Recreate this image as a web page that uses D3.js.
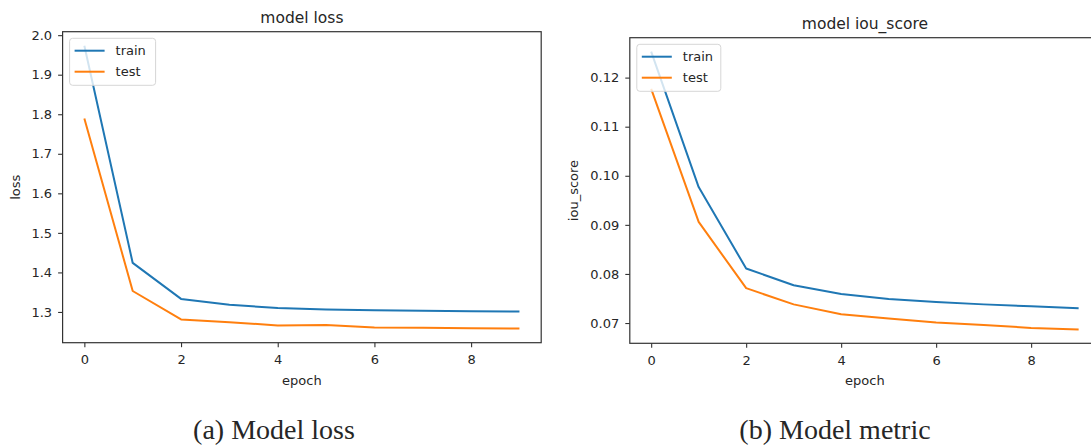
<!DOCTYPE html>
<html>
<head>
<meta charset="utf-8">
<script src="https://cdn.jsdelivr.net/npm/d3@7"></script>
<style>
  html, body { margin: 0; padding: 0; background: #fff; overflow: hidden; }
  text { fill: #262626; }
</style>
</head>
<body>
<div id="chart"></div>
<script>
// epochs shared by both panels
const epochs = [0, 1, 2, 3, 4, 5, 6, 7, 8, 9];
const epochTicks = [0, 2, 4, 6, 8];

// panel (a) loss
const lossTrain = [1.973, 1.424, 1.333, 1.318, 1.310, 1.306, 1.304, 1.303, 1.302, 1.301];
const lossTest = [1.789, 1.353, 1.281, 1.274, 1.266, 1.267, 1.261, 1.260, 1.259, 1.258];

// panel (b) iou_score
const iouTrain = [0.1253, 0.0977, 0.0811, 0.0777, 0.0759, 0.0749, 0.0743, 0.0738, 0.0734, 0.0730];
const iouTest = [0.1177, 0.0906, 0.0771, 0.0738, 0.0718, 0.0709, 0.0701, 0.0696, 0.0690, 0.0687];

const seriesNames = ['train', 'test'];
const seriesColors = ['#1f77b4', '#ff7f0e'];

const W = 1091, H = 445;
const svg = d3.select('#chart').append('svg')
    .attr('width', W)
    .attr('height', H)
    .style('font-family', '"DejaVu Sans", sans-serif');

// matplotlib-like 5% padding around the data
function padded(vals) {
    const [lo, hi] = d3.extent(vals);
    const m = (hi - lo) * 0.05;
    return [lo - m, hi + m];
}

function panel(opt) {
    const { left, right, top, bottom } = opt.box;
    const x = d3.scaleLinear().domain(padded(epochs)).range([left, right]);
    const y = d3.scaleLinear().domain(padded([...opt.train, ...opt.test])).range([bottom, top]);

    const g = svg.append('g');

    // x axis
    const xAxis = g.append('g')
        .attr('transform', `translate(0,${bottom})`)
        .call(d3.axisBottom(x).tickValues(epochTicks).tickSize(4.5).tickPadding(8).tickFormat(d3.format('d')));
    // y axis
    const yAxis = g.append('g')
        .attr('transform', `translate(${left},0)`)
        .call(d3.axisLeft(y).ticks(6).tickSize(4.5).tickPadding(6).tickFormat(d3.format(opt.fmt)));

    [xAxis, yAxis].forEach(a => {
        a.select('.domain').remove();
        a.selectAll('line').attr('stroke', '#333').attr('stroke-width', 1.1);
        a.selectAll('text').attr('font-size', 13).attr('fill', '#262626')
            .style('font-family', '"DejaVu Sans", sans-serif');
    });

    const line = d3.line().x((d, i) => x(epochs[i])).y(d => y(d));

    [opt.train, opt.test].forEach((vals, k) => {
        g.append('path')
            .datum(vals)
            .attr('fill', 'none')
            .attr('stroke', seriesColors[k])
            .attr('stroke-width', 2)
            .attr('stroke-linejoin', 'round')
            .attr('d', line);
    });

    // frame
    g.append('rect')
        .attr('x', left).attr('y', top)
        .attr('width', right - left).attr('height', bottom - top)
        .attr('fill', 'none')
        .attr('stroke', '#333')
        .attr('stroke-width', 1.2);

    // legend
    const lg = g.append('g').attr('transform', `translate(${left + 7},${top + 6.6})`);
    lg.append('rect')
        .attr('width', opt.legendW).attr('height', 47)
        .attr('rx', 3)
        .attr('fill', 'rgba(255,255,255,0.8)')
        .attr('stroke', '#d6d6d6');
    seriesNames.forEach((name, k) => {
        const ry = 12.4 + k * 21;
        lg.append('line')
            .attr('x1', 5).attr('x2', 35)
            .attr('y1', ry).attr('y2', ry)
            .attr('stroke', seriesColors[k])
            .attr('stroke-width', 2);
        lg.append('text')
            .attr('x', 46).attr('y', ry + 4.5)
            .attr('font-size', 13)
            .text(name);
    });

    // title
    g.append('text')
        .attr('x', (left + opt.titleRight) / 2).attr('y', top - 8.5)
        .attr('text-anchor', 'middle')
        .attr('font-size', 15.5)
        .text(opt.title);

    // axis labels
    g.append('text')
        .attr('x', (left + opt.titleRight) / 2).attr('y', bottom + 42)
        .attr('text-anchor', 'middle')
        .attr('font-size', 13)
        .text('epoch');
    g.append('text')
        .attr('transform', `translate(${opt.ylabelX},${(top + bottom) / 2}) rotate(-90)`)
        .attr('text-anchor', 'middle')
        .attr('font-size', 13)
        .text(opt.ylabel);

    // caption
    svg.append('text')
        .attr('x', opt.captionX).attr('y', 439)
        .attr('text-anchor', 'middle')
        .style('font-family', '"Liberation Serif", "Times New Roman", serif')
        .attr('font-size', 28)
        .attr('fill', '#000')
        .text(opt.caption);
}

panel({
    box: { left: 62.6, right: 541.2, top: 31.7, bottom: 342.7 },
    titleRight: 541.2,
    train: lossTrain, test: lossTest,
    fmt: '.1f',
    title: 'model loss', ylabel: 'loss', ylabelX: 20,
    legendW: 86,
    caption: '(a) Model loss', captionX: 274
});

panel({
    box: { left: 629.8, right: 1100, top: 37.7, bottom: 343.3 },
    titleRight: 1100,
    train: iouTrain, test: iouTest,
    fmt: '.2f',
    title: 'model iou_score', ylabel: 'iou_score', ylabelX: 578,
    legendW: 84,
    caption: '(b) Model metric', captionX: 835
});
</script>
</body>
</html>
